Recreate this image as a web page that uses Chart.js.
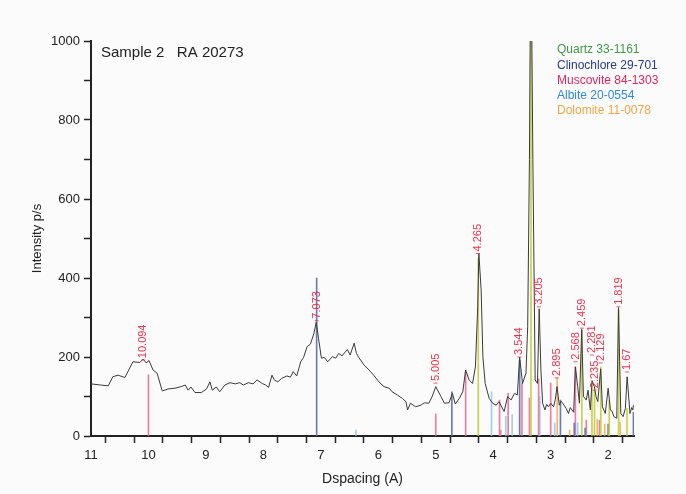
<!DOCTYPE html>
<html lang="en">
<head>
    <meta charset="UTF-8">
    <title>Sample 2 RA 20273</title>
    <script src="https://cdn.jsdelivr.net/npm/chart.js/dist/chart.umd.min.js"></script>
    <style>
        body { margin: 0; background: #fbfbfc; }
        #wrap { width: 686px; height: 494px; }
    </style>
</head>
<body>
<div id="wrap"><canvas id="xrdChart" width="686" height="494"></canvas></div>
<script>
// measured trace (d-spacing, counts)
const traceD = [11.00, 10.83, 10.70, 10.62, 10.53, 10.41, 10.27, 10.15, 10.09, 10.04, 9.99, 9.92, 9.85, 9.76, 9.66, 9.54, 9.43, 9.36, 9.31, 9.26, 9.19, 9.08, 8.99, 8.93, 8.89, 8.82, 8.76, 8.67, 8.58, 8.49, 8.41, 8.35, 8.26, 8.18, 8.11, 8.02, 7.96, 7.91, 7.85, 7.81, 7.75, 7.68, 7.59, 7.53, 7.48, 7.42, 7.35, 7.30, 7.24, 7.18, 7.12, 7.08, 7.04, 6.99, 6.94, 6.88, 6.80, 6.74, 6.69, 6.63, 6.54, 6.49, 6.42, 6.38, 6.34, 6.25, 6.16, 6.08, 5.99, 5.90, 5.81, 5.76, 5.67, 5.58, 5.52, 5.49, 5.44, 5.35, 5.26, 5.20, 5.12, 5.06, 5.00, 4.91, 4.85, 4.77, 4.71, 4.66, 4.59, 4.53, 4.48, 4.42, 4.36, 4.31, 4.27, 4.25, 4.21, 4.18, 4.14, 4.07, 4.01, 3.95, 3.90, 3.81, 3.75, 3.69, 3.63, 3.58, 3.54, 3.49, 3.43, 3.40, 3.37, 3.345, 3.31, 3.27, 3.23, 3.20, 3.17, 3.14, 3.10, 3.07, 3.04, 3.00, 2.95, 2.92, 2.89, 2.85, 2.82, 2.79, 2.76, 2.73, 2.69, 2.66, 2.63, 2.60, 2.57, 2.53, 2.50, 2.46, 2.43, 2.38, 2.35, 2.31, 2.28, 2.24, 2.21, 2.18, 2.13, 2.10, 2.05, 2.00, 1.96, 1.93, 1.90, 1.85, 1.82, 1.78, 1.74, 1.70, 1.67, 1.62, 1.59, 1.57, 1.56];
const traceI = [132, 129, 127, 150, 154, 148, 188, 186, 195, 185, 191, 167, 159, 114, 119, 121, 125, 129, 116, 124, 110, 110, 119, 137, 116, 124, 112, 129, 135, 132, 135, 129, 135, 132, 142, 133, 129, 123, 154, 142, 137, 146, 152, 149, 163, 152, 188, 199, 226, 233, 260, 288, 247, 197, 199, 188, 201, 197, 209, 203, 219, 205, 235, 209, 199, 180, 167, 154, 137, 125, 121, 112, 104, 95, 87, 66, 83, 74, 78, 84, 83, 101, 125, 100, 83, 84, 108, 81, 95, 112, 167, 142, 133, 175, 327, 462, 370, 201, 133, 95, 83, 78, 87, 62, 100, 91, 108, 104, 200, 133, 159, 277, 700, 1300, 700, 142, 133, 322, 167, 83, 66, 80, 74, 83, 74, 92, 125, 78, 88, 83, 76, 70, 57, 72, 66, 60, 175, 125, 83, 270, 100, 91, 116, 66, 140, 125, 100, 87, 170, 74, 57, 121, 66, 62, 49, 45, 325, 57, 49, 70, 150, 57, 72, 66, 78];

// reference patterns: d-spacing and stick height
const mineralNames = ['Quartz 33-1161', 'Clinochlore 29-701', 'Muscovite 84-1303', 'Albite 20-0554', 'Dolomite 11-0078'];
const mineralTextColors = ['#3c9a44', '#283a8c', '#e2245e', '#2c8ad6', '#f2a541'];
const mineralStickColors = ['#c9d24a', '#6a7cb0', '#e87ea4', '#a4cfe8', '#f2b86c'];
const quartzD = [4.26, 3.343, 2.458, 2.282, 2.237, 2.128, 1.98, 1.817, 1.672];
const quartzH = [450, 1000, 268, 134, 116, 175, 90, 320, 70];
const clinoD = [7.073, 4.72, 3.54, 2.83, 2.59, 2.40, 2.00, 1.56];
const clinoH = [400, 112, 192, 91, 33, 20, 30, 60];
const muscD = [10.0, 5.00, 4.48, 3.89, 3.87, 3.74, 3.50, 3.37, 3.21, 3.00, 2.57, 2.38, 2.15];
const muscH = [155, 56, 163, 91, 15, 108, 134, 96, 145, 134, 175, 40, 40];
const albiteD = [6.39, 4.03, 3.78, 3.67, 3.19, 2.93, 2.53];
const albiteH = [15, 112, 50, 54, 100, 33, 33];
const dolomiteD = [2.886, 2.67, 2.19, 2.06, 1.79];
const dolomiteH = [147, 15, 42, 30, 35];

// peak annotations
const peakLabels = ['10.094', '7.073', '5.005', '4.265', '3.544', '3.205', '2.895', '2.568', '2.459', '2.281', '2.235', '2.129', '1.819', '1.67'];
const peakD = [10.094, 7.073, 5.005, 4.265, 3.544, 3.205, 2.895, 2.568, 2.459, 2.281, 2.235, 2.129, 1.819, 1.67];
const peakI = [192, 292, 134, 462, 200, 327, 147, 188, 273, 205, 116, 185, 327, 162];

const stickSets = [[quartzD, quartzH], [clinoD, clinoH], [muscD, muscH], [albiteD, albiteH], [dolomiteD, dolomiteH]];

const stickDatasets = stickSets.map((s, i) => ({
    type: 'bar',
    label: mineralNames[i],
    data: s[0].map((d, j) => ({ x: d, y: s[1][j] })),
    backgroundColor: mineralStickColors[i],
    barThickness: 1,
    grouped: false,
    order: 2
}));

// red rotated peak labels
const peakLabelPlugin = {
    id: 'peakLabels',
    afterDatasetsDraw(chart) {
        const { ctx, scales: { x, y } } = chart;
        ctx.save();
        ctx.fillStyle = '#e8344e';
        ctx.strokeStyle = '#e8344e';
        ctx.font = '11px Arial, "Liberation Sans", sans-serif';
        ctx.textAlign = 'left';
        ctx.textBaseline = 'middle';
        peakLabels.forEach((txt, i) => {
            const px = x.getPixelForValue(peakD[i]);
            const py = y.getPixelForValue(peakI[i]);
            ctx.lineWidth = 0.8;
            ctx.beginPath();
            ctx.moveTo(px - 2, py); ctx.lineTo(px + 2, py);
            ctx.stroke();
            ctx.save();
            ctx.translate(px, py - 2);
            ctx.rotate(-Math.PI / 2);
            ctx.fillText(txt, 0, 0);
            ctx.restore();
        });
        ctx.restore();
    }
};

// sample title + coloured legend text
const textPlugin = {
    id: 'texts',
    afterDraw(chart) {
        const { ctx, chartArea } = chart;
        ctx.save();
        ctx.fillStyle = '#222';
        ctx.font = '15px Arial, "Liberation Sans", sans-serif';
        ctx.textAlign = 'left';
        ctx.textBaseline = 'middle';
        ctx.fillText('Sample 2   RA 20273', chartArea.left + 10, 53);
        ctx.font = '12px Arial, "Liberation Sans", sans-serif';
        mineralNames.forEach((name, i) => {
            ctx.fillStyle = mineralTextColors[i];
            ctx.fillText(name, 557, 50 + i * 15.2);
        });
        ctx.restore();
    }
};

new Chart(document.getElementById('xrdChart').getContext('2d'), {
    type: 'bar',
    data: {
        datasets: [
            {
                type: 'line',
                label: 'Sample 2',
                data: traceD.map((d, i) => ({ x: d, y: traceI[i] })),
                borderColor: '#3a3a3a',
                borderWidth: 1,
                pointRadius: 0,
                tension: 0,
                fill: false,
                order: 1
            },
            ...stickDatasets
        ]
    },
    options: {
        responsive: false,
        animation: false,
        layout: { padding: { left: 0, right: 52, top: 41, bottom: 0 } },
        plugins: { legend: { display: false }, tooltip: { enabled: false } },
        scales: {
            x: {
                type: 'linear',
                reverse: true,
                min: 1.55,
                max: 11,
                offset: false,
                afterFit: s => { s.height = 58; },
                border: { color: '#222', width: 2 },
                grid: { drawOnChartArea: false, drawTicks: true, tickLength: 7, tickColor: '#222', tickWidth: 1.5 },
                ticks: {
                    stepSize: 0.5,
                    includeBounds: false,
                    autoSkip: false,
                    maxRotation: 0,
                    padding: 5,
                    color: '#222',
                    font: { family: 'Arial, "Liberation Sans", sans-serif', size: 13 },
                    callback: v => Number.isInteger(v) ? v : ''
                },
                title: {
                    display: true,
                    text: 'Dspacing (A)',
                    color: '#222',
                    font: { family: 'Arial, "Liberation Sans", sans-serif', size: 14 },
                    padding: { top: 0, bottom: 6 }
                }
            },
            y: {
                min: 0,
                max: 1000,
                afterFit: s => { s.width = 91; },
                border: { color: '#222', width: 2 },
                grid: { drawOnChartArea: false, drawTicks: true, tickLength: 7, tickColor: '#222', tickWidth: 1.5 },
                ticks: {
                    stepSize: 100,
                    padding: 4,
                    color: '#222',
                    font: { family: 'Arial, "Liberation Sans", sans-serif', size: 13 },
                    callback: v => v % 200 === 0 ? v : ''
                },
                title: {
                    display: true,
                    text: 'Intensity p/s',
                    color: '#222',
                    font: { family: 'Arial, "Liberation Sans", sans-serif', size: 13 },
                    padding: { top: 30, bottom: 0 }
                }
            }
        }
    },
    plugins: [peakLabelPlugin, textPlugin]
});
</script>
</body>
</html>
